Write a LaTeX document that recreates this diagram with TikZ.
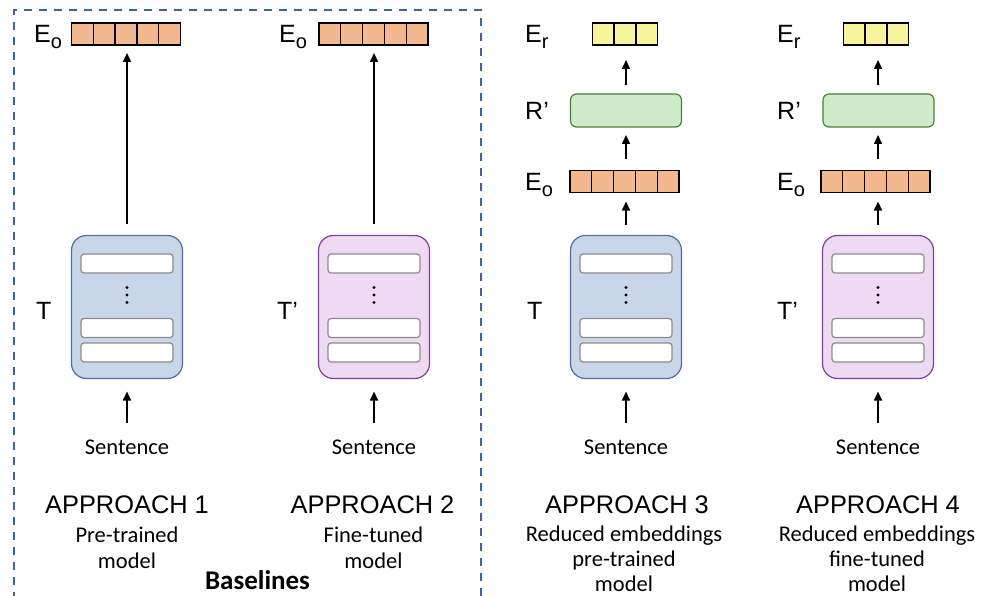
\documentclass[tikz,border=0pt]{standalone}
\usepackage{fontspec}
\setmainfont{Carlito}
\newfontfamily\arialf{Liberation Sans}
\usetikzlibrary{arrows.meta,calc}
\definecolor{orangecell}{HTML}{F4B88E}
\definecolor{yellowcell}{HTML}{F7F49C}
\definecolor{greenfill}{HTML}{CFEBC9}
\definecolor{greenedge}{HTML}{4E7F3A}
\definecolor{bluefill}{HTML}{C9D5E8}
\definecolor{blueedge}{HTML}{4A6FA5}
\definecolor{purplefill}{HTML}{EEDAF2}
\definecolor{purpleedge}{HTML}{7E3FA5}
\definecolor{laygray}{HTML}{8C8C8C}
\definecolor{dashblue}{HTML}{3C65A8}

\newcommand\cellrow[5]{%
  \node[rowbox, minimum width=#4*21.8pt] (#1) at (#2,#3) {};
  \foreach \i in {1,...,#4}{\node[cellbox, fill=#5] (#1-\i) at ([xshift={(\i-0.5)*21.8pt}]#1.west) {};}
}
\newcommand\transformer[4]{%
  \node[tbox, fill=#3, draw=#4] (#1) at (#2,307) {};
  \node[layer] (#1-l1) at (#2,263.5) {};
  \node[layer] (#1-l2) at (#2,328) {};
  \node[layer] (#1-l3) at (#2,352.5) {};
  \node[dotmark] (#1-d1) at (#2,287.5) {};
  \node[dotmark] (#1-d2) at (#2,295) {};
  \node[dotmark] (#1-d3) at (#2,302.5) {};
}
\newcommand\subl[1]{E\raisebox{-6pt}{\fontsize{20}{20}\selectfont #1}}

\begin{document}
\begin{tikzpicture}[x=1pt,y=-1pt,
  cellbox/.style={draw=black, line width=1.3pt, minimum width=21.8pt, minimum height=22pt, inner sep=0pt, outer sep=0pt},
  rowbox/.style={inner sep=0pt, outer sep=0pt, minimum height=22pt},
  tbox/.style={line width=1.2pt, rounded corners=15pt, minimum width=111pt, minimum height=143pt, inner sep=0pt, outer sep=0pt},
  layer/.style={draw=laygray, fill=white, line width=1.2pt, rounded corners=3pt, minimum width=92pt, minimum height=19pt, inner sep=0pt},
  dotmark/.style={circle, fill=black, inner sep=0pt, minimum size=3.2pt},
  rbox/.style={draw=greenedge, fill=greenfill, line width=1.2pt, rounded corners=6pt, minimum width=111pt, minimum height=33pt, inner sep=0pt, outer sep=0pt},
  arr/.style={line width=1.6pt, -{Triangle[length=9pt,width=8pt]}},
  lab/.style={font=\arialf\fontsize{25}{30}\selectfont, inner sep=0pt, anchor=base west},
  appr/.style={font=\arialf\fontsize{25.4}{30}\selectfont, anchor=base, inner sep=0pt},
  sub/.style={font=\fontsize{22.5}{27}\selectfont, anchor=base, inner sep=0pt},
]
\useasboundingbox (0,0) rectangle (987,596);

% baseline frame
\draw[dashblue, line width=2pt, dash pattern=on 8pt off 7pt] (14,600) -- (14,10) -- (481,10) -- (481,600);

% ---------- column 1
\cellrow{eo1}{126}{34}{5}{orangecell}
\transformer{t1}{127}{bluefill}{blueedge}
\node[sub] (s1) at (127,454) {Sentence};
\draw[arr, shorten <=16pt, shorten >=13pt] (s1.north) -- (t1.south);
\draw[arr, shorten <=12pt, shorten >=8pt] (t1.north) -- (t1.north |- eo1.south);
\node[lab] (leo1) at (34,43) {\subl{o}};
\node[lab] (lt1) at (36,319) {T};
\node[appr] (a1) at (127,513) {APPROACH 1};
\node[sub] (a1l1) at (127,542) {Pre-trained};
\node[sub] (a1l2) at (127,568) {model};

% ---------- column 2
\cellrow{eo2}{373.5}{34}{5}{orangecell}
\transformer{t2}{374}{purplefill}{purpleedge}
\node[sub] (s2) at (374,454) {Sentence};
\draw[arr, shorten <=16pt, shorten >=13pt] (s2.north) -- (t2.south);
\draw[arr, shorten <=12pt, shorten >=8pt] (t2.north) -- (t2.north |- eo2.south);
\node[lab] (leo2) at (279,43) {\subl{o}};
\node[lab] (lt2) at (277,319) {T’};
\node[appr] (a2) at (372.5,513) {APPROACH 2};
\node[sub] (a2l1) at (373.5,542) {Fine-tuned};
\node[sub] (a2l2) at (373.5,568) {model};

\node[font=\bfseries\fontsize{27}{30}\selectfont, anchor=base, inner sep=0pt] (base) at (257.5,589) {Baselines};

% ---------- column 3
\cellrow{er3}{625}{34}{3}{yellowcell}
\node[rbox] (r3) at (626,110.5) {};
\cellrow{eo3}{624.5}{181.5}{5}{orangecell}
\transformer{t3}{626}{bluefill}{blueedge}
\node[sub] (s3) at (626,454) {Sentence};
\draw[arr, shorten <=16pt, shorten >=13pt] (s3.north) -- (t3.south);
\draw[arr, shorten <=11pt, shorten >=9pt] (t3.north) -- (t3.north |- eo3.south);
\draw[arr, shorten <=11pt, shorten >=8pt] (t3.north |- eo3.north) -- (t3.north |- r3.south);
\draw[arr, shorten <=9pt, shorten >=15pt] (t3.north |- r3.north) -- (t3.north |- er3.south);
\node[lab] (ler3) at (525,43) {\subl{r}};
\node[lab] (lr3) at (525,119.5) {R’};
\node[lab] (leo3) at (525,190.5) {\subl{o}};
\node[lab] (lt3) at (527,319) {T};
\node[appr] (a3) at (627,513) {APPROACH 3};
\node[sub] (a3l1) at (624,541) {Reduced embeddings};
\node[sub] (a3l2) at (624,566) {pre-trained};
\node[sub] (a3l3) at (624,591) {model};

% ---------- column 4
\cellrow{er4}{876}{34}{3}{yellowcell}
\node[rbox] (r4) at (878.5,110.5) {};
\cellrow{eo4}{875.5}{181.5}{5}{orangecell}
\transformer{t4}{878}{purplefill}{purpleedge}
\node[sub] (s4) at (878,454) {Sentence};
\draw[arr, shorten <=16pt, shorten >=13pt] (s4.north) -- (t4.south);
\draw[arr, shorten <=11pt, shorten >=9pt] (t4.north) -- (t4.north |- eo4.south);
\draw[arr, shorten <=11pt, shorten >=8pt] (t4.north |- eo4.north) -- (t4.north |- r4.south);
\draw[arr, shorten <=9pt, shorten >=15pt] (t4.north |- r4.north) -- (t4.north |- er4.south);
\node[lab] (ler4) at (777,43) {\subl{r}};
\node[lab] (lr4) at (777,119.5) {R’};
\node[lab] (leo4) at (777,190.5) {\subl{o}};
\node[lab] (lt4) at (777,319) {T’};
\node[appr] (a4) at (878,513) {APPROACH 4};
\node[sub] (a4l1) at (877,541) {Reduced embeddings};
\node[sub] (a4l2) at (877,566) {fine-tuned};
\node[sub] (a4l3) at (877,591) {model};
\end{tikzpicture}
\end{document}
